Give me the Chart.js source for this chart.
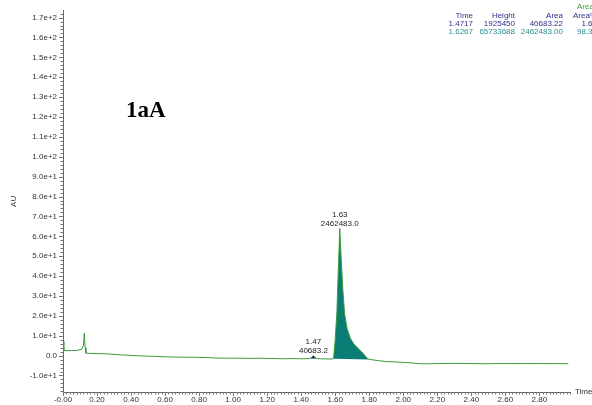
<!DOCTYPE html>
<html>
<head>
<meta charset="utf-8">
<script src="https://cdn.jsdelivr.net/npm/chart.js@4/dist/chart.umd.min.js"></script>
<style>
html,body{margin:0;padding:0;background:#fff;}
#wrap{width:592px;height:405px;}
</style>
</head>
<body>
<div id="wrap"><canvas id="c" width="592" height="405"></canvas></div>
<script>
// ---- data ----
const times = [0.000,0.005,0.02,0.05,0.08,0.11,0.12,0.125,0.13,0.135,0.16,0.20,0.25,0.30,0.35,0.40,0.45,0.50,0.55,0.60,0.65,0.70,0.75,0.80,0.85,0.90,0.95,1.00,1.05,1.10,1.15,1.20,1.25,1.30,1.35,1.40,1.45,1.46,1.4717,1.48,1.49,1.52,1.55,1.58,1.59,1.60,1.61,1.614,1.62,1.6267,1.635,1.645,1.655,1.67,1.69,1.71,1.73,1.75,1.77,1.785,1.80,1.85,1.90,1.95,2.00,2.05,2.10,2.15,2.20,2.30,2.40,2.50,2.55,2.60,2.70,2.80,2.90,2.97];
const signal = [7.4,2.6,2.5,2.5,2.6,3.2,5.0,11.2,4.0,1.2,1.1,1.0,0.9,0.6,0.3,0.1,-0.1,-0.3,-0.4,-0.6,-0.7,-0.8,-0.8,-0.9,-1.0,-1.2,-1.3,-1.3,-1.3,-1.4,-1.3,-1.4,-1.5,-1.6,-1.5,-1.6,-1.5,-1.0,0.0,-0.8,-1.5,-1.6,-1.7,-1.7,-1.6,8,22,33,47,64,49,33,21,13.5,8.5,5.8,4.0,2.3,0.6,-1.2,-1.9,-2.5,-3.0,-3.2,-3.4,-3.7,-4.1,-4.1,-4.0,-3.9,-4.0,-4.1,-4.0,-4.0,-4.0,-4.0,-4.0,-4.1];

// integrated peaks
const peakStart = [1.45, 1.59];
const peakEnd = [1.49, 1.80];
const peakRetTimes = [1.4717, 1.6267];
const peakLabelTimes = ['1.47', '1.63'];
const peakLabelAreas = ['40683.2', '2462483.0'];

// results table
const tableHeader = ['Time', 'Height', 'Area', 'Area%'];
const tableTimes = ['1.4717', '1.6267'];
const tableHeights = ['1925450', '65733688'];
const tableAreas = ['40683.22', '2462483.00'];
const tableAreaPct = ['1.63', '98.37'];

// axes
const xTickValues = [0,0.2,0.4,0.6,0.8,1.0,1.2,1.4,1.6,1.8,2.0,2.2,2.4,2.6,2.8];
const xTickLabels = ['-0.00','0.20','0.40','0.60','0.80','1.00','1.20','1.40','1.60','1.80','2.00','2.20','2.40','2.60','2.80'];
const yTickValues = [-10,0,10,20,30,40,50,60,70,80,90,100,110,120,130,140,150,160,170];
const yTickLabels = ['-1.0e+1','0.0','1.0e+1','2.0e+1','3.0e+1','4.0e+1','5.0e+1','6.0e+1','7.0e+1','8.0e+1','9.0e+1','1.0e+2','1.1e+2','1.2e+2','1.3e+2','1.4e+2','1.5e+2','1.6e+2','1.7e+2'];
const chartTitle = '1aA';

// ---- build datasets ----
const trace = times.map((t,i)=>({x:t,y:signal[i]}));
function peakPoints(k){
  return trace.filter(p => p.x >= peakStart[k] - 1e-9 && p.x <= peakEnd[k] + 1e-9);
}
function baseLine(k){
  const pts = peakPoints(k);
  return [pts[0], pts[pts.length-1]];
}

const FONT = "'Liberation Sans', Arial, sans-serif";

const decor = {
  id: 'decor',
  afterDraw(chart){
    const {ctx, scales:{x,y}, chartArea:a} = chart;
    ctx.save();
    // minor / major tick marks
    ctx.strokeStyle = '#777';
    ctx.lineWidth = 1;
    ctx.beginPath();
    for (let i = 0; i <= 200; i++){
      const v = i*0.02;
      if (v > x.max + 1e-9) break;
      const px = Math.round(x.getPixelForValue(v)) + 0.5;
      const len = (i % 10 === 0) ? 4 : 2.5;
      ctx.moveTo(px, a.bottom); ctx.lineTo(px, a.bottom + len);
    }
    for (let i = -10; i <= 90; i++){
      const v = i*2;
      if (v < y.min || v > y.max) continue;
      const py = Math.round(y.getPixelForValue(v)) + 0.5;
      const len = (i % 5 === 0) ? 4 : 2.5;
      ctx.moveTo(a.left, py); ctx.lineTo(a.left - len, py);
    }
    ctx.stroke();

    // "Time" axis name
    ctx.fillStyle = '#333';
    ctx.font = '8px ' + FONT;
    ctx.textAlign = 'left';
    ctx.textBaseline = 'middle';
    ctx.fillText('Time', a.right + 5, a.bottom);

    // peak labels
    ctx.textAlign = 'center';
    ctx.fillStyle = '#222';
    for (let k = 0; k < peakRetTimes.length; k++){
      let top = -Infinity;
      peakPoints(k).forEach(p => { if (p.y > top) top = p.y; });
      const px = x.getPixelForValue(peakRetTimes[k]);
      const py = y.getPixelForValue(top);
      ctx.fillText(peakLabelTimes[k], px, py - 14);
      ctx.fillText(peakLabelAreas[k], px, py - 5);
    }

    // title
    ctx.fillStyle = '#000';
    ctx.font = "bold 23px 'Liberation Serif', 'Times New Roman', serif";
    ctx.textAlign = 'left';
    ctx.textBaseline = 'alphabetic';
    ctx.fillText(chartTitle, 126, 117);

    // results table
    ctx.font = '8px ' + FONT;
    ctx.textBaseline = 'middle';
    const colRight = [473, 515, 563, 597];
    ctx.fillStyle = '#3a9a3a';
    ctx.textAlign = 'left';
    ctx.fillText('Area', 577, 7);
    ctx.textAlign = 'right';
    ctx.fillStyle = '#2f2f8a';
    tableHeader.forEach((h,i)=>ctx.fillText(h, colRight[i], 16));
    const rowColors = ['#2f2f8a', '#2a8f8c'];
    const rowY = [24, 32];
    for (let r = 0; r < tableTimes.length; r++){
      ctx.fillStyle = rowColors[r];
      ctx.fillText(tableTimes[r], colRight[0], rowY[r]);
      ctx.fillText(tableHeights[r], colRight[1], rowY[r]);
      ctx.fillText(tableAreas[r], colRight[2], rowY[r]);
      ctx.fillText(tableAreaPct[r], colRight[3], rowY[r]);
    }
    ctx.restore();
  }
};

new Chart(document.getElementById('c'), {
  type: 'line',
  data: {
    datasets: [
      {label:'trace', data: trace, borderColor:'#3a9a3a', borderWidth:1, pointRadius:0, fill:false, tension:0, order:0},
      {label:'peak1', data: peakPoints(0), borderColor:'rgba(0,0,0,0)', borderWidth:0, pointRadius:0, backgroundColor:'#16166e', fill:'+1', order:1},
      {label:'base1', data: baseLine(0), borderColor:'rgba(0,0,0,0)', borderWidth:0, pointRadius:0, fill:false, order:2},
      {label:'peak2', data: peakPoints(1), borderColor:'rgba(0,0,0,0)', borderWidth:0, pointRadius:0, backgroundColor:'#0c7d75', fill:'+1', order:3},
      {label:'base2', data: baseLine(1), borderColor:'rgba(0,0,0,0)', borderWidth:0, pointRadius:0, fill:false, order:4}
    ]
  },
  options: {
    responsive: false,
    devicePixelRatio: 1,
    animation: false,
    events: [],
    layout: {padding: {top:5, right:22, bottom:0, left:0}},
    plugins: {legend:{display:false}, tooltip:{enabled:false}},
    scales: {
      x: {
        type: 'linear', min: 0, max: 2.98,
        grid: {display:false, drawTicks:false},
        border: {display:true, color:'#666', width:1},
        afterBuildTicks: s => { s.ticks = xTickValues.map(v=>({value:v})); },
        afterFit: s => { s.height = 13; },
        ticks: {
          color:'#333', font:{family:FONT, size:8}, padding:3, maxRotation:0, autoSkip:false,
          callback: (v) => { const i = xTickValues.findIndex(t => Math.abs(t-v) < 1e-6); return i >= 0 ? xTickLabels[i] : ''; }
        }
      },
      y: {
        type: 'linear', min: -18.3, max: 173.4,
        grid: {display:false, drawTicks:false},
        border: {display:true, color:'#666', width:1},
        afterBuildTicks: s => { s.ticks = yTickValues.map(v=>({value:v})); },
        afterFit: s => { s.width = 63; },
        title: {display:true, text:'AU', color:'#333', font:{family:FONT, size:8}, padding:{top:9, bottom:0}},
        ticks: {
          color:'#333', font:{family:FONT, size:8}, padding:6, autoSkip:false,
          callback: (v) => { const i = yTickValues.findIndex(t => Math.abs(t-v) < 1e-6); return i >= 0 ? yTickLabels[i] : ''; }
        }
      }
    }
  },
  plugins: [decor]
});
</script>
</body>
</html>
